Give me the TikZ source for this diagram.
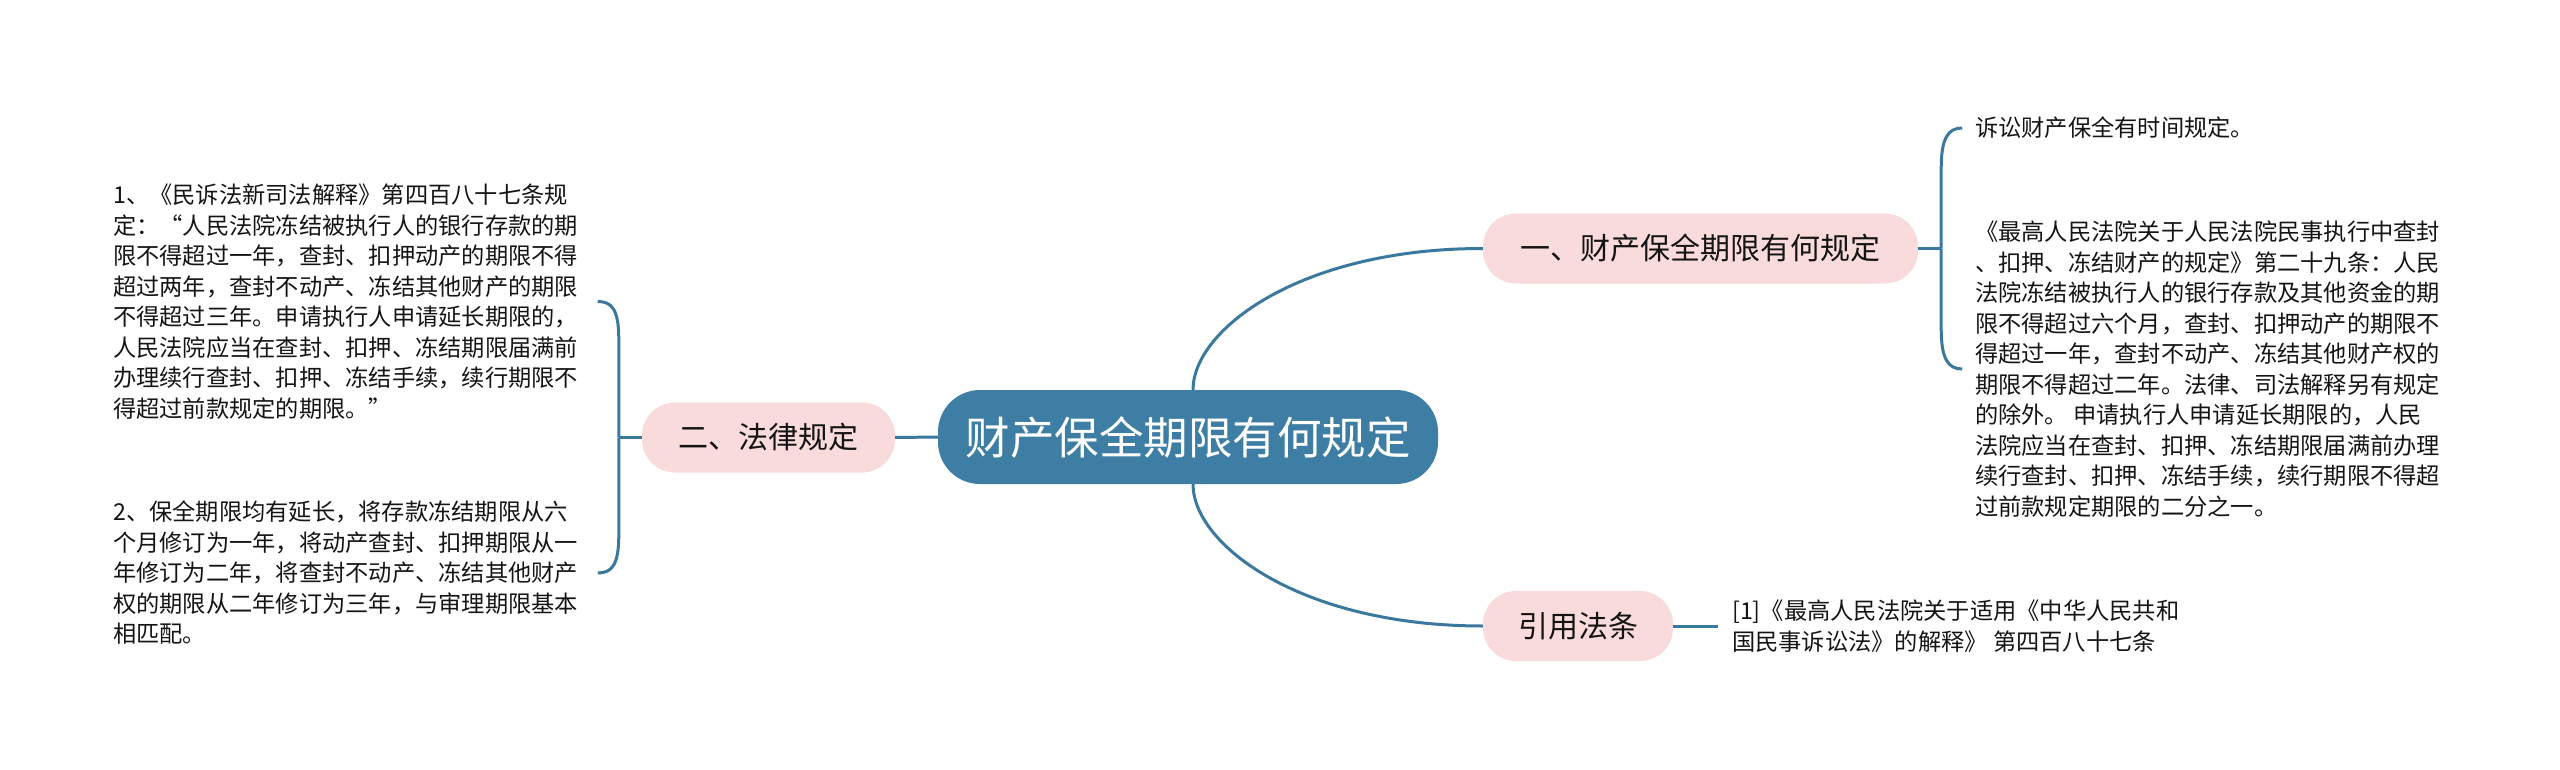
\documentclass[tikz,border=0pt]{standalone}
\usepackage{fontspec}
\setmainfont{Noto Sans CJK SC}
\usetikzlibrary{calc}
\definecolor{mainblue}{RGB}{62,126,165}
\definecolor{linkblue}{RGB}{58,120,158}
\definecolor{pinkfill}{RGB}{250,219,219}
\definecolor{txt}{RGB}{20,20,20}
\begin{document}
\begin{tikzpicture}[x=1pt,y=-1pt,
  root/.style={fill=mainblue, rounded corners=42pt, minimum width=500pt, minimum height=94pt, inner sep=0pt, text=white, font=\fontsize{44.5}{50}\selectfont},
  branch/.style={fill=pinkfill, rounded corners=33pt, minimum height=70pt, inner sep=0pt, text=txt, font=\fontsize{30}{36}\selectfont},
  leaf/.style={text=txt, align=left, inner sep=0pt, anchor=west, font=\fontsize{23.25}{30.5}\selectfont},
  link/.style={draw=linkblue, line width=3pt}
]
\useasboundingbox (0,0) rectangle (2560,770);

\node[root] (c) at (1188,437) {财产保全期限有何规定};
\node[branch, minimum width=435pt] (b1) at (1700.5,248.5) {一、财产保全期限有何规定};
\node[branch, minimum width=253pt] (b2) at (768.5,437.5) {二、法律规定};
\node[branch, minimum width=190pt] (b3) at (1578,626) {引用法条};

\node[leaf] (l1) at (113,301.5) {1、《民诉法新司法解释》第四百八十七条规\\
定：“人民法院冻结被执行人的银行存款的期\\
限不得超过一年，查封、扣押动产的期限不得\\
超过两年，查封不动产、冻结其他财产的期限\\
不得超过三年。申请执行人申请延长期限的，\\
人民法院应当在查封、扣押、冻结期限届满前\\
办理续行查封、扣押、冻结手续，续行期限不\\
得超过前款规定的期限。”};

\node[leaf] (l2) at (113,573) {2、保全期限均有延长，将存款冻结期限从六\\
个月修订为一年，将动产查封、扣押期限从一\\
年修订为二年，将查封不动产、冻结其他财产\\
权的期限从二年修订为三年，与审理期限基本\\
相匹配。};

\node[leaf] (r1) at (1975,128) {诉讼财产保全有时间规定。};

\node[leaf] (r2) at (1975,369) {《最高人民法院关于人民法院民事执行中查封\\
、扣押、冻结财产的规定》第二十九条：人民\\
法院冻结被执行人的银行存款及其他资金的期\\
限不得超过六个月，查封、扣押动产的期限不\\
得超过一年，查封不动产、冻结其他财产权的\\
期限不得超过二年。法律、司法解释另有规定\\
的除外。 申请执行人申请延长期限的，人民\\
法院应当在查封、扣押、冻结期限届满前办理\\
续行查封、扣押、冻结手续，续行期限不得超\\
过前款规定期限的二分之一。};

\node[leaf] (ref) at (1732,626) {[1]《最高人民法院关于适用《中华人民共和\\
国民事诉讼法》的解释》 第四百八十七条};

% main connectors
\draw[link] ([xshift=5pt]c.north) .. controls +(0,-60) and +(-183,0) .. (b1.west);
\draw[link] ([xshift=5pt]c.south) .. controls +(0,60) and +(-183,0) .. (b3.west);
\draw[link] (c.west) -- (b2.east);
\draw[link] (b3.east) -- ([xshift=-14pt]ref.west);

% left bracket
\coordinate (lj) at ($(b2.west)+(-23,0)$);
\draw[link] (b2.west) -- (lj);
\draw[link] (lj) -- ($(lj |- l1.east)+(0,38)$) .. controls ($(lj |- l1.east)+(0,8)$) and ($(lj |- l1.east)+(-7,0)$) .. ($(lj |- l1.east)+(-21,0)$);
\draw[link] (lj) -- ($(lj |- l2.east)+(0,-38)$) .. controls ($(lj |- l2.east)+(0,-8)$) and ($(lj |- l2.east)+(-7,0)$) .. ($(lj |- l2.east)+(-21,0)$);

% right bracket
\coordinate (rj) at ($(b1.east)+(23,0)$);
\draw[link] (b1.east) -- (rj);
\draw[link] (rj) -- ($(rj |- r1.west)+(0,40)$) .. controls ($(rj |- r1.west)+(0,10)$) and ($(rj |- r1.west)+(7,0)$) .. ($(rj |- r1.west)+(21,0)$);
\draw[link] (rj) -- ($(rj |- r2.west)+(0,-40)$) .. controls ($(rj |- r2.west)+(0,-10)$) and ($(rj |- r2.west)+(7,0)$) .. ($(rj |- r2.west)+(21,0)$);
\end{tikzpicture}
\end{document}
